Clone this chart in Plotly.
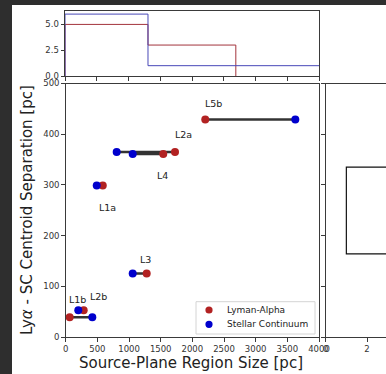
import plotly.graph_objects as go

# ---------------- data ----------------
regions = ["L1a", "L1b", "L2a", "L2b", "L3", "L4", "L5b"]
lya_size = [585, 284, 1726, 63, 1279, 1541, 2204]
sc_size = [490, 199, 805, 420, 1058, 1058, 3626]
separation = [299, 53, 365, 39, 125, 361, 429]

# step histograms (top panel)
lya_hist_edges = [0, 1307, 2690]
lya_hist_counts = [5, 3]
sc_hist_edges = [0, 1307, 4300]
sc_hist_counts = [6, 1]

# horizontal step histogram (right panel)
sep_hist_edges = [164, 335]
sep_hist_counts = [1]

x_ticks = [0, 500, 1000, 1500, 2000, 2500, 3000, 3500, 4000]
y_ticks = [0, 100, 200, 300, 400, 500]
top_y_ticks = [0.0, 2.5, 5.0]
series_names = ["Lyman-Alpha", "Stellar Continuum"]

# label pixel offsets (dx, dy) from the Lya point
label_offsets = [(4.6, -21.7), (-6, 10.3), (8.3, 17), (29, 20.6), (-1, 14.4), (-1, -22), (8, 16)]

W, H = 386, 374
RED = "#b22222"
BLUE = "#0000cd"
AX = "#3a3a3a"
DARK = "#2e2e2e"
FONT = "DejaVu Sans"


def px(x):
    return x / W


def py(y):
    return (H - y) / H


def step(edges, counts):
    xs = [edges[0]]
    ys = [0]
    for i, c in enumerate(counts):
        xs += [edges[i], edges[i + 1]]
        ys += [c, c]
    xs.append(edges[-1])
    ys.append(0)
    return xs, ys


fig = go.Figure()

# top histogram
rx, ry = step(lya_hist_edges, lya_hist_counts)
bx, by = step(sc_hist_edges, sc_hist_counts)
fig.add_trace(go.Scatter(x=rx, y=ry, mode="lines", line=dict(color="#a3343c", width=1),
                         xaxis="x", yaxis="y", showlegend=False, hoverinfo="skip"))
fig.add_trace(go.Scatter(x=bx, y=by, mode="lines", line=dict(color="#4848b8", width=1),
                         xaxis="x", yaxis="y", showlegend=False, hoverinfo="skip"))

# connecting lines
lx, ly = [], []
for a, b, s in zip(lya_size, sc_size, separation):
    lx += [a, b, None]
    ly += [s, s, None]
fig.add_trace(go.Scatter(x=lx, y=ly, mode="lines", line=dict(color="#333333", width=2.5),
                         xaxis="x2", yaxis="y2", showlegend=False, hoverinfo="skip"))

fig.add_trace(go.Scatter(x=lya_size, y=separation, mode="markers", name=series_names[0],
                         marker=dict(color=RED, size=8), xaxis="x2", yaxis="y2", showlegend=False))
fig.add_trace(go.Scatter(x=sc_size, y=separation, mode="markers", name=series_names[1],
                         marker=dict(color=BLUE, size=8), xaxis="x2", yaxis="y2", showlegend=False))

# right panel horizontal step histogram
hx = [3.5]
hy = [sep_hist_edges[-1]]
for i in range(len(sep_hist_counts) - 1, -1, -1):
    c = sep_hist_counts[i]
    hx += [c, c]
    hy += [sep_hist_edges[i + 1], sep_hist_edges[i]]
hx.append(3.5)
hy.append(sep_hist_edges[0])
fig.add_trace(go.Scatter(x=hx, y=hy, mode="lines", line=dict(color="#111111", width=1.2),
                         xaxis="x3", yaxis="y3", showlegend=False, hoverinfo="skip"))

annotations = []
for name, a, s, (dx, dy) in zip(regions, lya_size, separation, label_offsets):
    annotations.append(dict(x=a, y=s, xref="x2", yref="y2", text=name, showarrow=False,
                            xshift=dx, yshift=dy, font=dict(family=FONT, size=9.5, color="#222")))

annotations.append(dict(x=px(191), y=py(363), xref="paper", yref="paper",
                        xanchor="center", yanchor="middle",
                        text="Source-Plane Region Size [pc]", showarrow=False,
                        font=dict(family=FONT, size=15, color="#222")))
annotations.append(dict(x=px(27), y=py(210), xref="paper", yref="paper",
                        xanchor="center", yanchor="middle",
                        text="Ly<i>α</i> - SC Centroid Separation [pc]", showarrow=False,
                        textangle=-90, font=dict(family=FONT, size=15, color="#222")))

# legend (drawn manually to match the compact layout)
shapes = [
    dict(type="rect", xref="paper", yref="paper", x0=0, x1=px(12), y0=0, y1=1,
         fillcolor=DARK, line=dict(width=0), layer="above"),
    dict(type="rect", xref="paper", yref="paper", x0=0, x1=1, y0=py(5), y1=1,
         fillcolor=DARK, line=dict(width=0), layer="above"),
    dict(type="rect", xref="paper", yref="paper", x0=px(196), x1=px(315), y0=py(334), y1=py(301.7),
         fillcolor="rgba(255,255,255,0.85)", line=dict(color="#d4d4d4", width=1), layer="above"),
]
for i, (name, col) in enumerate(zip(series_names, [RED, BLUE])):
    yc = 310 + i * 14.3
    shapes.append(dict(type="circle", xref="paper", yref="paper", xsizemode="pixel", ysizemode="pixel",
                       xanchor=px(209), yanchor=py(yc), x0=-3.6, x1=3.6, y0=-3.6, y1=3.6,
                       fillcolor=col, line=dict(width=0), layer="above"))
    annotations.append(dict(x=px(225), y=py(yc), xref="paper", yref="paper", xanchor="left",
                            yanchor="middle", text=name, showarrow=False,
                            font=dict(family=FONT, size=9, color="#222")))

tickfont = dict(family=FONT, size=8.5, color="#333")
common = dict(showline=True, linecolor=AX, linewidth=1, ticks="outside", ticklen=3.5,
              tickwidth=1, tickcolor=AX, showgrid=False, zeroline=False, tickfont=tickfont)

fig.update_layout(
    width=W, height=H,
    margin=dict(l=0, r=0, t=0, b=0),
    template="none",
    paper_bgcolor="white",
    plot_bgcolor="white",
    font=dict(family=FONT, size=9, color="#222"),
    showlegend=False,
    xaxis=dict(domain=[px(65), px(319)], range=[0, 4000], anchor="y", tickvals=x_ticks,
               showticklabels=False, mirror=True, **common),
    yaxis=dict(domain=[py(76), py(11)], range=[0, 6.3], anchor="x", tickvals=top_y_ticks,
               tickformat=".1f", mirror=True, **common),
    xaxis2=dict(domain=[px(65.7), px(319)], range=[0, 4000], anchor="y2", tickvals=x_ticks,
                mirror=True, **common),
    yaxis2=dict(domain=[py(337), py(83.5)], range=[0, 500], anchor="x2", tickvals=y_ticks,
                mirror=True, **common),
    xaxis3=dict(domain=[px(325.7), 1.0], range=[0, 2.92], anchor="y3", tickvals=[0, 2],
                mirror=True, **common),
    yaxis3=dict(domain=[py(337), py(83.5)], range=[0, 500], anchor="x3", tickvals=y_ticks,
                showticklabels=False, **common),
    annotations=annotations,
    shapes=shapes,
)

fig.write_html("out.html")
